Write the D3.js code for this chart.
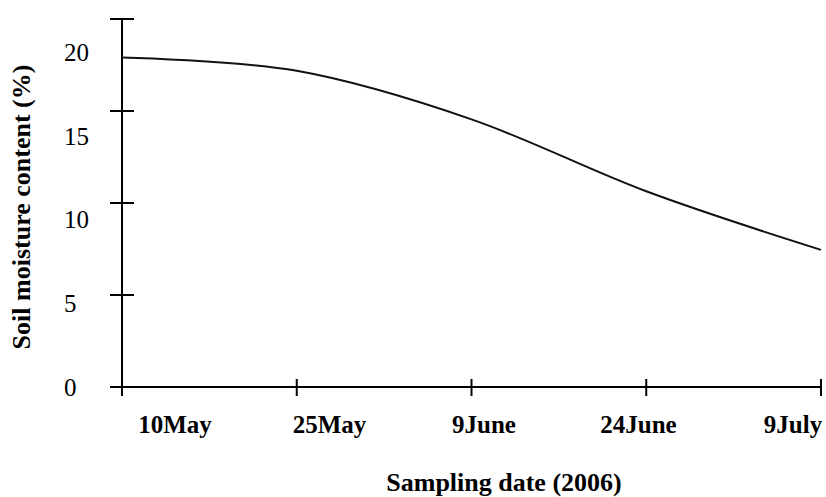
<!DOCTYPE html>
<html>
<head>
<meta charset="utf-8">
<script src="https://cdn.jsdelivr.net/npm/d3@7"></script>
<style>
  body { margin: 0; background: #fff; }
  #chart text { font-family: 'Liberation Serif', 'Times New Roman', serif; fill: #000; }
</style>
</head>
<body>
<svg id="chart"></svg>
<script>
// sampling dates and soil moisture
var dates = ['10May', '25May', '9June', '24June', '9July'];
var moisture = [19.7, 18.9, 16.0, 11.7, 8.2];
var yTickMarks = [0, 5.5, 11, 16.5, 22];
var yTickLabels = [0, 5, 10, 15, 20];

var width = 826, height = 497;

var svg = d3.select('#chart')
    .attr('width', width)
    .attr('height', height);

var x = d3.scalePoint().domain(dates).range([122, 821]);
// labels under the axis sit on their own spacing, not on the ticks
var xLabel = d3.scalePoint().domain(dates).range([175, 793]);
var y = d3.scaleLinear().domain([0, 22]).range([387, 19]);

// x axis
svg.append('line')
    .attr('x1', 110).attr('x2', x(dates[dates.length - 1]))
    .attr('y1', y(0)).attr('y2', y(0))
    .attr('stroke', '#000').attr('stroke-width', 2);

svg.selectAll('.xtick').data(dates).enter().append('line')
    .attr('class', 'xtick')
    .attr('x1', function(d) { return x(d); })
    .attr('x2', function(d) { return x(d); })
    .attr('y1', y(0) - 8).attr('y2', y(0) + 9)
    .attr('stroke', '#000').attr('stroke-width', 2);

svg.selectAll('.xlabel').data(dates).enter().append('text')
    .attr('class', 'xlabel')
    .attr('x', function(d) { return xLabel(d); })
    .attr('y', 433)
    .attr('text-anchor', 'middle')
    .style('font-size', '25px')
    .style('font-weight', 'bold')
    .text(function(d) { return d; });

// y axis
svg.append('line')
    .attr('x1', x(dates[0])).attr('x2', x(dates[0]))
    .attr('y1', y(22)).attr('y2', y(0) + 9)
    .attr('stroke', '#000').attr('stroke-width', 2);

svg.selectAll('.ytick').data(yTickMarks).enter().append('line')
    .attr('class', 'ytick')
    .attr('x1', x(dates[0]) - 12).attr('x2', x(dates[0]) + 12)
    .attr('y1', function(d) { return y(d); })
    .attr('y2', function(d) { return y(d); })
    .attr('stroke', '#000').attr('stroke-width', 2);

svg.selectAll('.ylabel').data(yTickLabels).enter().append('text')
    .attr('class', 'ylabel')
    .attr('x', 64)
    .attr('y', function(d) { return y(d); })
    .attr('dy', '0.35em')
    .style('font-size', '25px')
    .text(function(d) { return d; });

// the curve
var line = d3.line()
    .x(function(d, i) { return x(dates[i]); })
    .y(function(d) { return y(d); })
    .curve(d3.curveCardinal);

svg.append('path')
    .datum(moisture)
    .attr('d', line)
    .attr('fill', 'none')
    .attr('stroke', '#111')
    .attr('stroke-width', 2);

// titles
svg.append('text')
    .attr('x', 504).attr('y', 491)
    .attr('text-anchor', 'middle')
    .style('font-size', '26px')
    .style('font-weight', 'bold')
    .text('Sampling date (2006)');

svg.append('text')
    .attr('transform', 'translate(30,207) rotate(-90)')
    .attr('text-anchor', 'middle')
    .style('font-size', '26px')
    .style('font-weight', 'bold')
    .text('Soil moisture content (%)');
</script>
</body>
</html>
